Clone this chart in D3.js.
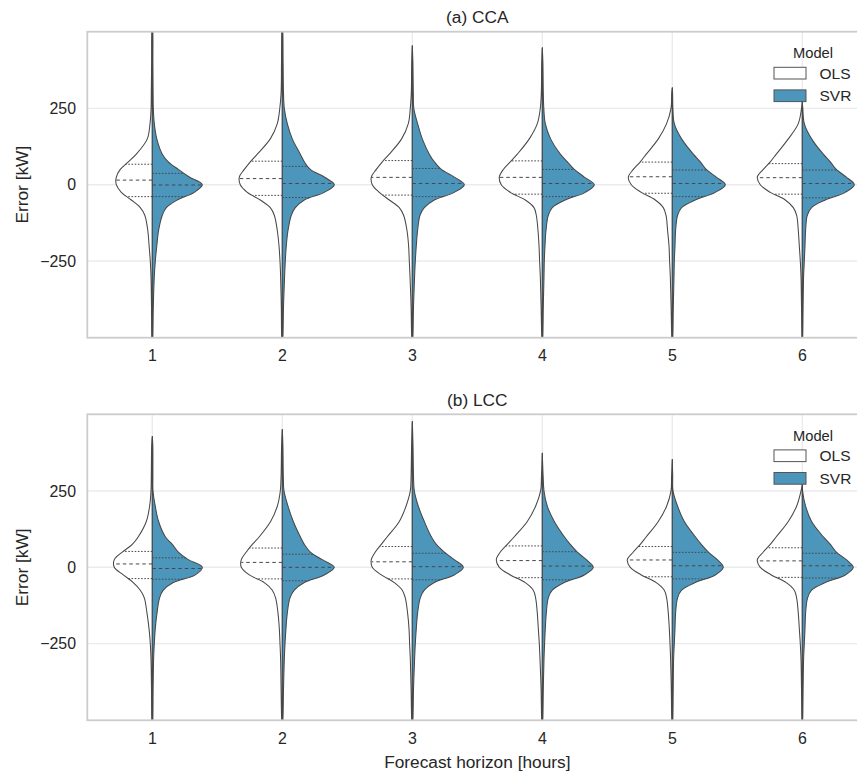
<!DOCTYPE html>
<html>
<head>
<meta charset="utf-8">
<script src="https://cdn.jsdelivr.net/npm/d3@7"></script>
<style>
  body { margin: 0; background: #fff; }
  svg text { font-family: "Liberation Sans", Arial, Helvetica, sans-serif; fill: #262626; }
</style>
</head>
<body>
<svg id="chart" width="857" height="776"></svg>
<script>
// ---- data ---------------------------------------------------------------
const horizons = ["1", "2", "3", "4", "5", "6"];
const models = ["OLS", "SVR"];
const panelTitles = ["(a) CCA", "(b) LCC"];
const yTicks = [-250, 0, 250];
const yLimits = [-501, 501];
const xTitle = "Forecast horizon [hours]";
const yTitle = "Error [kW]";
const legendTitle = "Model";

// forecast error levels [kW] at which the kernel densities are given
const errorLevels = [-500, -400, -300, -250, -200, -150, -100, -75, -50, -25, 0, 25, 50, 75, 100, 150, 200, 250, 300, 400, 500];

// kernel density estimates (relative units, peak ~52), one row per horizon
const ccaOlsDensity = [
  [0.5, 0.8, 1.3, 2, 3.2, 4.5, 7.5, 12, 21, 31, 36, 36, 32, 24, 16, 5, 2.3, 1.2, 1, 0.7, 0.5],
  [0.6, 1, 1.7, 2.3, 3.3, 5, 8, 12, 22, 35, 42, 43, 38, 32, 25, 12, 5, 2.5, 1.2, 0.8, 0.5],
  [0.6, 1.2, 2.3, 3, 3.7, 5.3, 8.7, 13, 23, 33, 40, 41, 36, 30, 23, 10.7, 4, 2, 1, 0.6, null],
  [0.5, 1.2, 2, 2.7, 3.3, 4.3, 6, 8.3, 17, 32, 41, 43, 39, 32, 25, 13, 5, 2, 1, 0.6, null],
  [0.5, 1.2, 2, 2.7, 3.3, 4.7, 6.3, 9, 17, 31, 41, 44, 39, 32, 26, 14, 5.7, 1.3, 0.6, null, null],
  [0.4, 0.8, 1.3, 2, 3, 4, 5.7, 9, 17, 32, 42, 45, 39, 32, 26, 14, 4, 0.8, null, null, null]
];
const ccaSvrDensity = [
  [0.5, 1, 2, 3, 4.5, 6.3, 10, 14, 25, 42, 50, 37, 26, 16, 10, 4.5, 2, 1, 0.8, 0.6, 0.5],
  [0.6, 1.2, 2.3, 3, 4, 5.7, 9, 13, 22, 42, 52, 42, 28, 22, 18, 10, 5, 2, 1.2, 0.8, 0.5],
  [0.6, 1.2, 2.3, 3, 4, 5.3, 7.7, 12, 22, 42, 52, 42, 29, 22, 17, 10, 5.3, 1.5, 1, 0.6, null],
  [0.5, 1, 1.7, 2, 2.7, 3.7, 6, 10, 23, 43, 52, 42, 32, 25, 18, 8.3, 3, 1.5, 1, 0.6, null],
  [0.5, 1, 1.7, 2, 2.7, 3.3, 5.3, 9.3, 23, 43, 53, 44, 34, 28, 21, 9.3, 2, 0.6, 0.3, null, null],
  [0.4, 0.8, 1.3, 2, 2.7, 3.3, 5, 9.3, 23, 43, 52, 44, 34, 28, 21, 9.3, 2, 0.5, null, null, null]
];
const lccOlsDensity = [
  [0.5, 0.8, 1.3, 2, 3.3, 5.3, 8, 12, 19, 29, 38, 38, 30, 20, 14, 6, 2.7, 1.3, 1, 0.6, null],
  [0.6, 1.2, 1.7, 2.3, 3, 4.3, 6.7, 10, 18, 33, 41, 41, 36, 30, 23, 11.7, 5, 2, 1.2, 0.7, null],
  [0.6, 1.2, 2, 2.7, 3.3, 4.7, 7, 10, 18, 31, 40, 41, 37, 31, 25, 13, 6.3, 2, 1.2, 0.7, null],
  [0.6, 1.2, 2.3, 3, 4, 5, 6.7, 9, 17, 32, 43, 46, 42, 35, 28, 15, 6.7, 1.7, 0.8, null, null],
  [0.5, 1, 1.7, 2.3, 3, 4, 5.7, 8, 16, 31, 42, 45, 39, 32, 26, 14, 5.7, 1.3, 0.7, null, null],
  [0.4, 0.8, 1.3, 2, 3, 4, 5.7, 8, 16, 31, 42, 45, 39, 32, 26, 14, 5.7, 1.3, null, null, null]
];
const lccSvrDensity = [
  [0.5, 0.8, 1.3, 2, 3, 4.7, 7.3, 11, 21, 43, 50, 36, 26, 20, 13, 6.3, 3, 0.7, 0.6, 0.5, null],
  [0.6, 1.2, 2, 2.7, 3.7, 5, 7.7, 12, 22, 42, 52, 40, 28, 22, 18, 11, 5.7, 1.7, 1, 0.6, null],
  [0.6, 1.2, 2.3, 3, 4, 5.3, 8, 12, 22, 42, 51, 42, 32, 24, 19, 12, 6, 2, 1.2, 0.7, null],
  [0.5, 1, 1.7, 2.3, 3, 4, 6, 10, 22, 42, 51, 44, 35, 28, 22, 12, 5, 1.7, 0.8, null, null],
  [0.5, 0.9, 1.3, 2, 2.7, 3.3, 5.3, 9.3, 23, 43, 51, 45, 36, 29, 23, 12, 5.3, 0.7, 0.4, null, null],
  [0.4, 0.8, 1.3, 2, 2.7, 3.3, 5.3, 9.3, 23, 43, 51, 44, 34, 28, 21, 9.3, 3.3, 0.3, null, null, null]
];

// extent of each density estimate [kW]
const ccaSupportMax = [520, 520, 455, 448, 317, 272];
const lccSupportMax = [428, 451, 477, 373, 353, 272];
const supportMin = -520;

// quartiles [Q1, median, Q3] of the errors [kW]
const ccaOlsQuartiles = [[-39, 15, 67], [-35, 20, 77], [-34, 24, 79], [-31, 24, 78], [-28, 26, 74], [-31, 23, 69]];
const ccaSvrQuartiles = [[-39, -1, 37], [-42, 4, 60], [-39, 4, 53], [-39, 4, 50], [-39, 4, 48], [-43, 4, 48]];
const lccOlsQuartiles = [[-37, 11, 52], [-38, 16, 63], [-38, 18, 68], [-34, 22, 70], [-31, 24, 68], [-33, 21, 64]];
const lccSvrQuartiles = [[-39, -4, 31], [-44, 0, 43], [-41, 2, 46], [-41, 4, 51], [-38, 5, 49], [-35, 5, 46]];

const panels = [
  { title: panelTitles[0], density: [ccaOlsDensity, ccaSvrDensity], quartiles: [ccaOlsQuartiles, ccaSvrQuartiles], supportMax: ccaSupportMax },
  { title: panelTitles[1], density: [lccOlsDensity, lccSvrDensity], quartiles: [lccOlsQuartiles, lccSvrQuartiles], supportMax: lccSupportMax }
];

// ---- styling ---------------------------------------------------------------
const modelFill = { OLS: "#ffffff", SVR: "#4c96bc" };
const edgeColor = "#474747";
const gridColor = "#ebebeb";
const spineColor = "#cccccc";

const plotLeft = 87.3, plotRight = 867.3;
const panelTops = [31.7, 414.3];
const panelHeight = 306;

const svg = d3.select("#chart");

const x = d3.scaleBand().domain(horizons).range([plotLeft, plotRight]).paddingInner(0).paddingOuter(0);
const densityWidth = d3.scaleLinear().domain([0, 52]).range([0, x.bandwidth() * 0.4]);

panels.forEach((panel, pi) => {
  const top = panelTops[pi];
  const bottom = top + panelHeight;
  const y = d3.scaleLinear().domain(yLimits).range([bottom, top]);
  const g = svg.append("g");

  const clipId = "clip" + pi;
  svg.append("clipPath").attr("id", clipId)
    .append("rect").attr("x", plotLeft).attr("y", top)
    .attr("width", plotRight - plotLeft).attr("height", panelHeight);

  // grid
  g.append("g").selectAll("line").data(yTicks).join("line")
    .attr("x1", plotLeft).attr("x2", plotRight)
    .attr("y1", d => y(d)).attr("y2", d => y(d))
    .attr("stroke", gridColor).attr("stroke-width", 1.4);
  g.append("g").selectAll("line").data(horizons).join("line")
    .attr("x1", d => x(d) + x.bandwidth() / 2).attr("x2", d => x(d) + x.bandwidth() / 2)
    .attr("y1", top).attr("y2", bottom)
    .attr("stroke", gridColor).attr("stroke-width", 1.4);

  // split violins
  const violins = g.append("g").attr("clip-path", `url(#${clipId})`);
  horizons.forEach((h, hi) => {
    const center = x(h) + x.bandwidth() / 2;
    const hiSupport = panel.supportMax[hi];
    models.forEach((m, mi) => {
      const dir = mi === 0 ? -1 : 1;
      const dens = panel.density[mi][hi];
      const pts = [[supportMin, 0]];
      errorLevels.forEach((v, i) => {
        if (v > supportMin && v < hiSupport && dens[i] != null) pts.push([v, dens[i]]);
      });
      pts.push([hiSupport, 0]);

      const area = d3.area()
        .curve(d3.curveCatmullRom.alpha(0.5))
        .y(d => y(d[0]))
        .x0(center)
        .x1(d => center + dir * densityWidth(d[1]));

      violins.append("path")
        .attr("d", area(pts))
        .attr("fill", modelFill[m])
        .attr("stroke", edgeColor)
        .attr("stroke-width", 1.05)
        .attr("stroke-linejoin", "round");

      // quartile lines reaching from the centre to the density edge
      const edgeAt = d3.scaleLinear().domain(pts.map(p => p[0])).range(pts.map(p => p[1]));
      panel.quartiles[mi][hi].forEach((q, qi) => {
        violins.append("line")
          .attr("x1", center)
          .attr("x2", center + dir * densityWidth(edgeAt(q)))
          .attr("y1", y(q)).attr("y2", y(q))
          .attr("stroke", edgeColor)
          .attr("stroke-width", 1)
          .attr("stroke-dasharray", qi === 1 ? "3.5,3" : "1.6,1.6");
      });
    });
  });

  // spines
  const sp = g.append("g").attr("stroke", spineColor).attr("stroke-width", 1.8).attr("fill", "none");
  sp.append("rect").attr("x", plotLeft).attr("y", top)
    .attr("width", plotRight - plotLeft).attr("height", panelHeight);

  // y tick labels
  g.append("g").selectAll("text").data(yTicks).join("text")
    .attr("x", 76).attr("y", d => y(d)).attr("dy", "0.36em")
    .attr("text-anchor", "end").style("font-size", "15.9px")
    .text(d => d3.format("")(d).replace("-", "\u2212"));

  // x tick labels
  g.append("g").selectAll("text").data(horizons).join("text")
    .attr("x", d => x(d) + x.bandwidth() / 2).attr("y", bottom + 23.4)
    .attr("text-anchor", "middle").style("font-size", "15.9px")
    .text(d => d);

  // title
  g.append("text").attr("x", (plotLeft + plotRight) / 2).attr("y", top - 8.6)
    .attr("text-anchor", "middle").style("font-size", "17.3px").text(panel.title);

  // y axis label
  g.append("text").attr("transform", `translate(28,${(top + bottom) / 2}) rotate(-90)`)
    .attr("text-anchor", "middle").style("font-size", "17.3px").text(yTitle);

  // legend
  const lg = g.append("g");
  lg.append("text").attr("x", 813).attr("y", top + 26.6)
    .attr("text-anchor", "middle").style("font-size", "14.7px").text(legendTitle);
  models.forEach((m, mi) => {
    const py = top + 35.6 + mi * 22.6;
    lg.append("rect").attr("x", 774).attr("y", py).attr("width", 32).attr("height", 11.7)
      .attr("fill", modelFill[m]).attr("stroke", "#555").attr("stroke-width", 1);
    lg.append("text").attr("x", 819.5).attr("y", py + 11.3)
      .style("font-size", "15.5px").text(m);
  });
});

// x axis label
svg.append("text").attr("x", (plotLeft + plotRight) / 2).attr("y", 768.3)
  .attr("text-anchor", "middle").style("font-size", "17.3px").text(xTitle);
</script>
</body>
</html>
